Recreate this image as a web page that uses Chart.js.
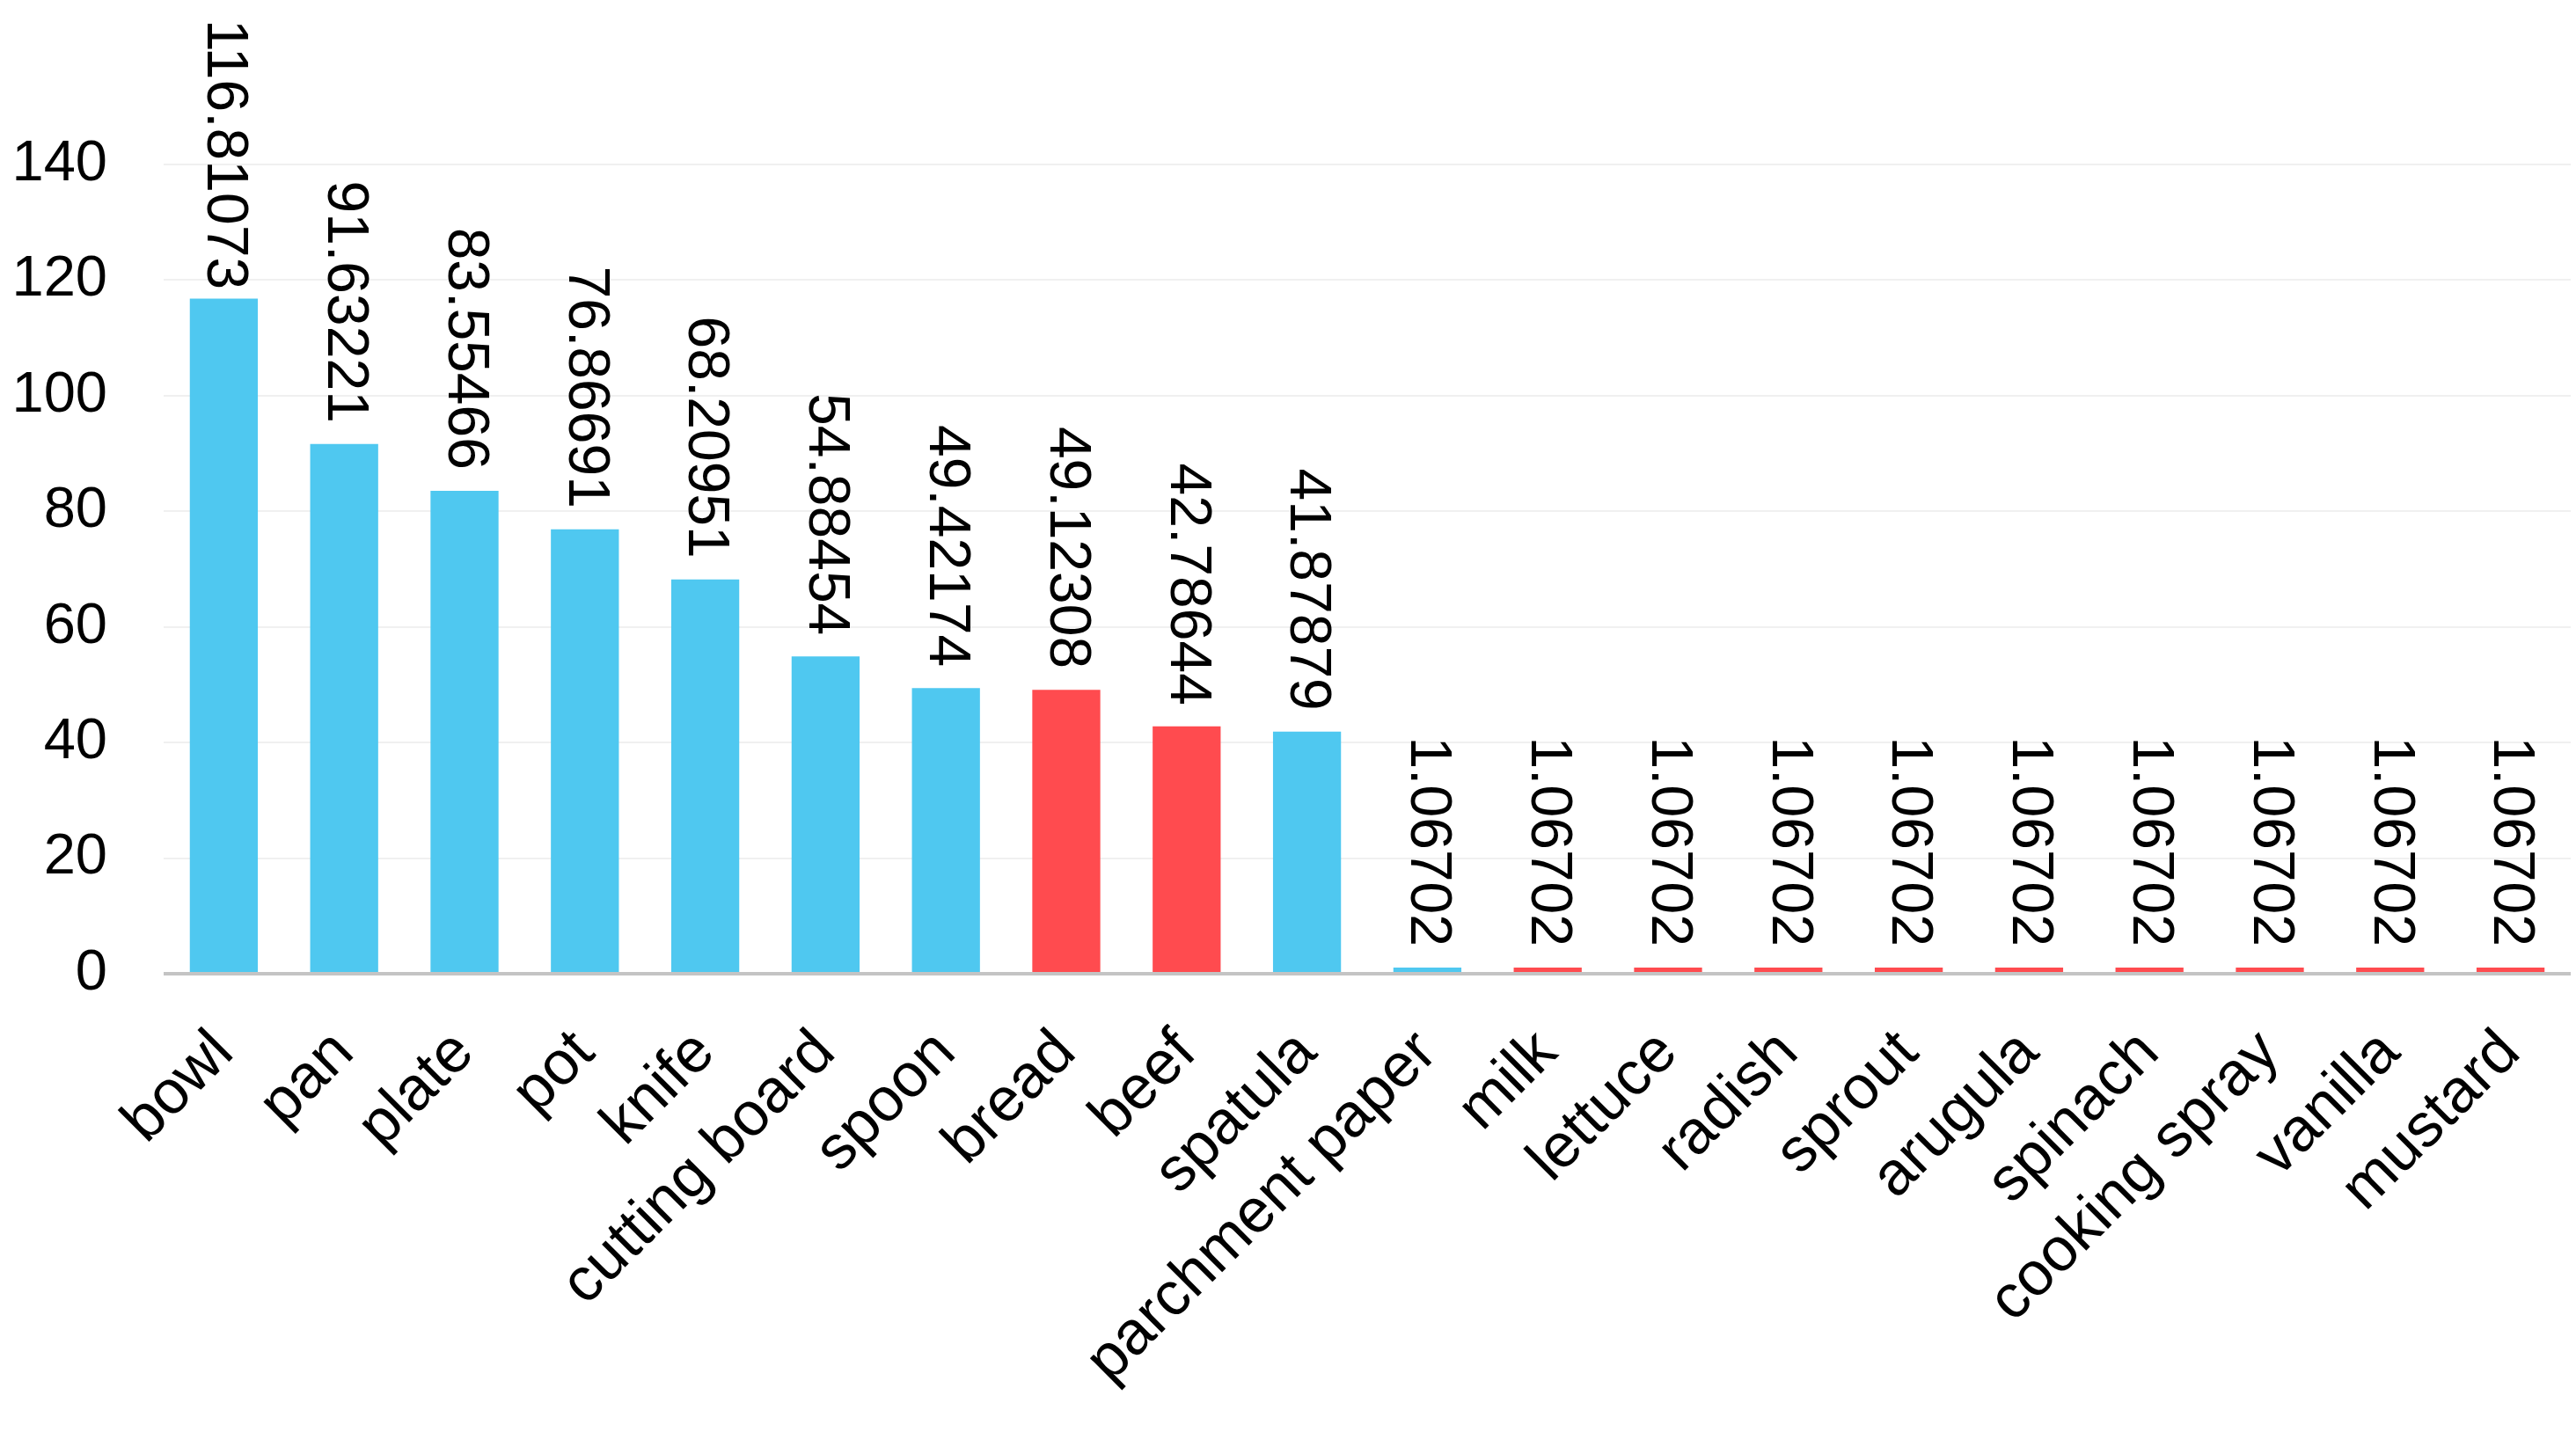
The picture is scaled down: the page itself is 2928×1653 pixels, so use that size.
<!DOCTYPE html>
<html>
<head>
<meta charset="utf-8">
<script src="https://cdn.jsdelivr.net/npm/chart.js@4/dist/chart.umd.min.js"></script>
<style>
  html, body { margin: 0; padding: 0; background: #ffffff; }
  #wrap { width: 2928px; height: 1653px; position: relative; }
</style>
</head>
<body>
<div id="wrap"><canvas id="chart" width="2928" height="1653"></canvas></div>
<script>
var categories = ['bowl', 'pan', 'plate', 'pot', 'knife', 'cutting board', 'spoon', 'bread', 'beef', 'spatula',
  'parchment paper', 'milk', 'lettuce', 'radish', 'sprout', 'arugula', 'spinach', 'cooking spray', 'vanilla', 'mustard'];
var values = [116.81073, 91.63221, 83.55466, 76.86691, 68.20951, 54.88454, 49.42174, 49.12308, 42.78644, 41.87879,
  1.06702, 1.06702, 1.06702, 1.06702, 1.06702, 1.06702, 1.06702, 1.06702, 1.06702, 1.06702];
var groups = ['tool', 'tool', 'tool', 'tool', 'tool', 'tool', 'tool', 'food', 'food', 'tool',
  'tool', 'food', 'food', 'food', 'food', 'food', 'food', 'food', 'food', 'food'];
var yTicks = [0, 20, 40, 60, 80, 100, 120, 140];

var BLUE = '#4fc8f0';
var RED = '#ff4b4f';
var FONT = '"Liberation Sans", Arial, sans-serif';

var barColors = groups.map(function (g) {
  return g === 'food' ? RED : BLUE;
});

// draws the rotated value text above each bar, kept inside the canvas
var valueLabels = {
  id: 'valueLabels',
  afterDatasetsDraw: function (chart) {
    var ctx = chart.ctx;
    var meta = chart.getDatasetMeta(0);
    ctx.save();
    ctx.fillStyle = '#000000';
    ctx.font = '66px ' + FONT;
    ctx.textAlign = 'right';
    ctx.textBaseline = 'middle';
    meta.data.forEach(function (bar, i) {
      var text = String(values[i]);
      var len = ctx.measureText(text).width;
      var end = bar.y - 24;
      if (end - len < 22) {
        end = 22 + len;
      }
      ctx.save();
      ctx.translate(bar.x, end);
      ctx.rotate(Math.PI / 2);
      ctx.fillText(text, 0, 0);
      ctx.restore();
    });
    ctx.restore();
  }
};

new Chart(document.getElementById('chart'), {
  type: 'bar',
  data: {
    labels: categories,
    datasets: [{
      data: values,
      backgroundColor: barColors,
      borderWidth: 0,
      barPercentage: 0.565,
      categoryPercentage: 1
    }]
  },
  options: {
    responsive: false,
    animation: false,
    devicePixelRatio: 1,
    layout: {
      padding: { top: 187, right: 6, bottom: 0, left: 0 }
    },
    plugins: {
      legend: { display: false },
      tooltip: { enabled: false }
    },
    scales: {
      x: {
        grid: { display: false },
        border: { display: false },
        ticks: {
          autoSkip: false,
          minRotation: 45,
          maxRotation: 45,
          padding: 41,
          color: '#000000',
          font: { family: FONT, size: 70 }
        },
        afterFit: function (scale) {
          scale.height = 546;
          scale.paddingLeft = 0;
          scale.paddingRight = 0;
        }
      },
      y: {
        min: 0,
        max: 140,
        afterBuildTicks: function (scale) {
          scale.ticks = yTicks.map(function (v) { return { value: v }; });
        },
        grid: {
          drawTicks: false,
          color: function (c) {
            return c.tick && c.tick.value === 0 ? '#c4c4c4' : '#f0f0f0';
          },
          lineWidth: function (c) {
            return c.tick && c.tick.value === 0 ? 4 : 2;
          }
        },
        border: { display: false },
        ticks: {
          padding: 64,
          color: '#000000',
          font: { family: FONT, size: 65 }
        },
        afterFit: function (scale) {
          scale.width = 186;
        }
      }
    }
  },
  plugins: [valueLabels]
});
</script>
</body>
</html>
